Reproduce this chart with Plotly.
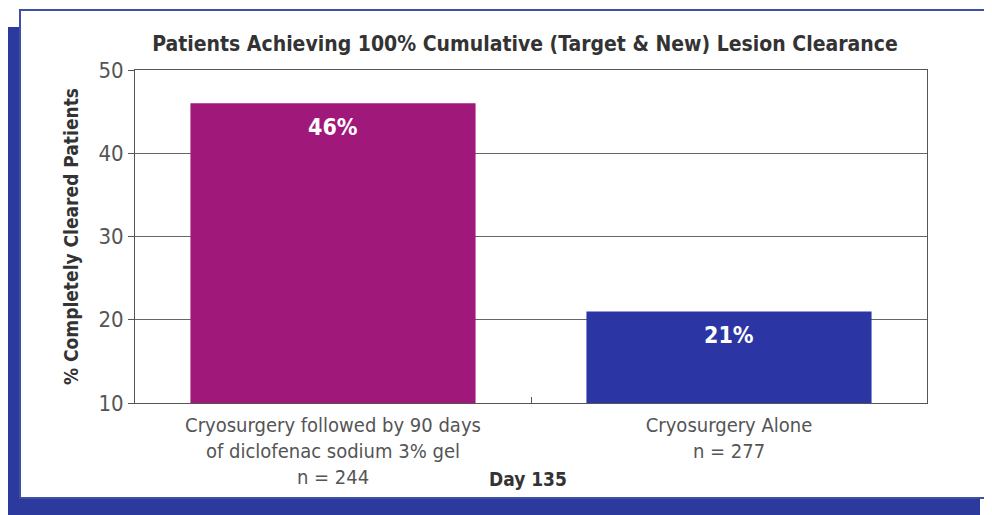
import plotly.graph_objects as go

categories = ["Cryosurgery followed by 90 days<br>of diclofenac sodium 3% gel<br>n = 244",
              "Cryosurgery Alone<br>n = 277"]
values = [46, 21]
bar_labels = ["46%", "21%"]
bar_colors = ["#A0187A", "#2B36A4"]
y_ticks = [10, 20, 30, 40, 50]

FONT = "Liberation Sans Narrow, DejaVu Sans Condensed, Arial Narrow, sans-serif"

# page shows the figure offset by the default 8px body margin
OFF = 8
SW, SH = 992, 515
W, H = SW - OFF, SH - OFF

# plot area in screen pixels
PX0, PX1, PY0, PY1 = 135, 927, 70, 403
L = PX0 - OFF
R = W - (PX1 - OFF)
T = PY0 - OFF
B = H - (PY1 - OFF)
pw, ph = PX1 - PX0, PY1 - PY0

def px(x):
    return (x - PX0) / pw

def py(y):
    return (PY1 - y) / ph

fig = go.Figure()
fig.add_trace(go.Bar(
    x=categories, y=values, width=0.72,
    marker=dict(color=bar_colors, line=dict(width=0)),
    hoverinfo="skip",
))
for c, v, t in zip(categories, values, bar_labels):
    fig.add_annotation(x=c, y=v, text="<b>" + t + "</b>", showarrow=False,
                       yanchor="top", yshift=-9,
                       font=dict(family=FONT, size=23, color="white"))

band = "#2C3A9E"
shapes = [
    dict(type="rect", xref="paper", yref="paper", x0=px(5), x1=px(20), y0=py(520), y1=py(27),
         fillcolor=band, line=dict(width=0), layer="below"),
    dict(type="rect", xref="paper", yref="paper", x0=px(5), x1=px(980), y0=py(520), y1=py(498),
         fillcolor=band, line=dict(width=0), layer="below"),
    dict(type="rect", xref="paper", yref="paper", x0=px(20), x1=px(987), y0=py(498), y1=py(10),
         fillcolor="white", line=dict(color="#3F4FA6", width=2), layer="below"),
]

fig.add_annotation(text="<b>Day 135</b>", xref="paper", yref="paper",
                   x=px(528), y=py(479), showarrow=False, yanchor="middle",
                   font=dict(family=FONT, size=19, color="#333333"))

fig.update_layout(
    width=W, height=H,
    margin=dict(l=L, r=R, t=T, b=B),
    paper_bgcolor="white",
    plot_bgcolor="#ECECF1",
    font=dict(family=FONT, color="#555555"),
    title=dict(text="<b>Patients Achieving 100% Cumulative (Target &amp; New) Lesion Clearance</b>",
               x=(525 - OFF) / W, xanchor="center", y=1 - (44 - OFF) / H, yanchor="middle",
               font=dict(family=FONT, size=21, color="#333333")),
    showlegend=False,
    shapes=shapes,
)
fig.update_xaxes(
    range=[-0.5, 1.5], showline=True, linecolor="#555555", linewidth=1, mirror=True,
    ticks="inside", tickson="boundaries", ticklen=6, tickcolor="#555555",
    ticklabelstandoff=4,
    tickfont=dict(family=FONT, size=20, color="#555555"), showgrid=False,
)
fig.update_yaxes(
    range=[10, 50], tickvals=y_ticks, showline=True, linecolor="#555555", linewidth=1, mirror=True,
    ticks="outside", ticklen=6, tickcolor="#555555",
    showgrid=True, gridcolor="#666666", gridwidth=1,
    tickfont=dict(family=FONT, size=22, color="#555555"),
    title=dict(text="<b>% Completely Cleared Patients</b>", standoff=14,
               font=dict(family=FONT, size=19, color="#333333")),
)

fig.write_html("out.html")
